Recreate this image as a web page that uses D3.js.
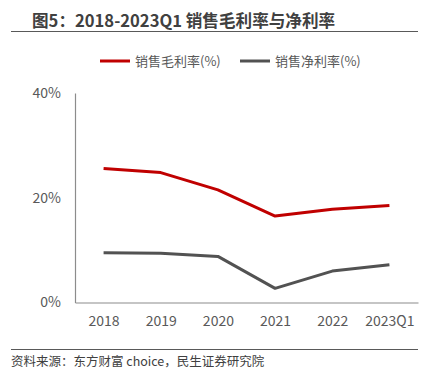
<!DOCTYPE html>
<html>
<head>
<meta charset="utf-8">
<script src="https://cdn.jsdelivr.net/npm/d3@7"></script>
<style>
  body { margin: 0; background: #fff; }
  text { font-family: "Noto Sans CJK SC", "Noto Sans", sans-serif; }
</style>
</head>
<body>
<div id="wrapper"></div>
<script>
// data
const years = ["2018", "2019", "2020", "2021", "2022", "2023Q1"]
const grossMargin = [25.6, 24.8, 21.5, 16.5, 17.8, 18.5]
const netMargin = [9.5, 9.4, 8.8, 2.7, 6.0, 7.2]
const yTicks = [0, 20, 40]
const seriesNames = ["销售毛利率(%)", "销售净利率(%)"]
const seriesColors = ["#C00000", "#525252"]

const width = 437, height = 376
const svg = d3.select("#wrapper").append("svg")
  .attr("width", width)
  .attr("height", height)

// title + rules
svg.append("text")
  .attr("x", 32).attr("y", 27)
  .attr("font-size", 16.6).attr("font-weight", "bold")
  .attr("fill", "#404040")
  .text("图5：2018-2023Q1 销售毛利率与净利率")
svg.append("line")
  .attr("x1", 11).attr("x2", 418).attr("y1", 31.5).attr("y2", 31.5)
  .attr("stroke", "#595959").attr("stroke-width", 1.2)
svg.append("line")
  .attr("x1", 11).attr("x2", 418).attr("y1", 349.5).attr("y2", 349.5)
  .attr("stroke", "#595959").attr("stroke-width", 1.2)
svg.append("text")
  .attr("x", 11).attr("y", 366)
  .attr("font-size", 12.5).attr("fill", "#404040")
  .text("资料来源：东方财富 choice，民生证券研究院")

// scales
const xScale = d3.scalePoint()
  .domain(years)
  .range([75, 418])
  .padding(0.5)
const yScale = d3.scaleLinear()
  .domain([0, 40])
  .range([302.5, 93])

// axes
const yAxis = svg.append("g")
  .attr("transform", "translate(75,0)")
  .call(d3.axisLeft(yScale).tickValues(yTicks).tickSize(0).tickPadding(14).tickFormat(d => d + "%"))
yAxis.select(".domain").attr("stroke", "#8c8c8c").attr("stroke-width", 1.2)
yAxis.selectAll("text").attr("font-size", 14).attr("fill", "#595959")

const xAxis = svg.append("g")
  .attr("transform", "translate(0,302.5)")
  .call(d3.axisBottom(xScale).tickSize(0).tickPadding(14))
xAxis.select(".domain").attr("stroke", "#8c8c8c").attr("stroke-width", 1.2)
xAxis.selectAll("text").attr("font-size", 14).attr("fill", "#595959")

// lines
const lineGenerator = d3.line()
  .x((d, i) => xScale(years[i]))
  .y(d => yScale(d))

;[grossMargin, netMargin].forEach((series, i) => {
  svg.append("path")
    .attr("d", lineGenerator(series))
    .attr("fill", "none")
    .attr("stroke", seriesColors[i])
    .attr("stroke-width", 3)
    .attr("stroke-linejoin", "round")
})

// legend
const legendX = [100, 240]
seriesNames.forEach((name, i) => {
  svg.append("line")
    .attr("x1", legendX[i]).attr("x2", legendX[i] + 30)
    .attr("y1", 61).attr("y2", 61)
    .attr("stroke", seriesColors[i]).attr("stroke-width", 3)
  svg.append("text")
    .attr("x", legendX[i] + 35).attr("y", 61)
    .attr("dy", "0.35em")
    .attr("font-size", 13).attr("fill", "#595959")
    .text(name)
})
</script>
</body>
</html>
